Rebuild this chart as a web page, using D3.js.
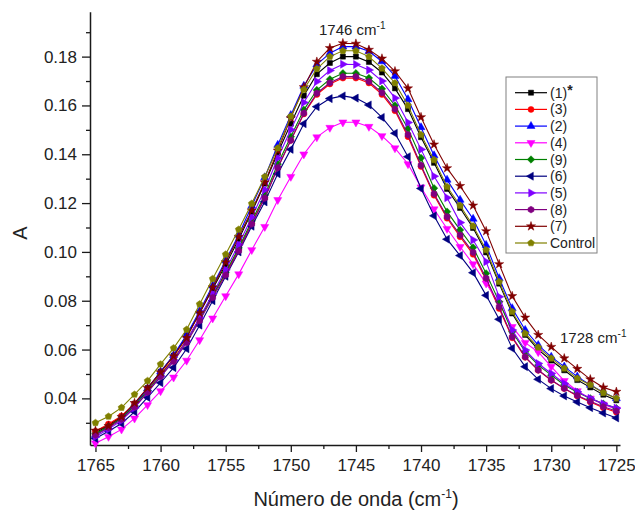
<!DOCTYPE html>
<html>
<head>
<meta charset="utf-8">
<script src="https://cdn.jsdelivr.net/npm/d3@7"></script>
<style>
  body { margin: 0; background: #fff; }
  text { font-family: "Liberation Sans", Arial, sans-serif; }
</style>
</head>
<body>
<svg id="chart" width="635" height="514"></svg>
<script>
// x values (cm-1), one point per wavenumber
const wavenumbers = [1765, 1764, 1763, 1762, 1761, 1760, 1759, 1758, 1757, 1756, 1755,
  1754, 1753, 1752, 1751, 1750, 1749, 1748, 1747, 1746, 1745, 1744, 1743, 1742, 1741,
  1740, 1739, 1738, 1737, 1736, 1735, 1734, 1733, 1732, 1731, 1730, 1729, 1728, 1727,
  1726, 1725];

// absorbance of each sample
const s1 = [0.0258, 0.0290, 0.0325, 0.0378, 0.0442, 0.0509, 0.0575, 0.0656, 0.0750, 0.0848, 0.0947,
  0.1052, 0.1163, 0.1280, 0.1405, 0.1525, 0.1640, 0.1728, 0.1774, 0.1800, 0.1800, 0.1778, 0.1735,
  0.1670, 0.1585, 0.1470, 0.1365, 0.1258, 0.1180, 0.1098, 0.0998, 0.0870, 0.0748, 0.0660, 0.0600,
  0.0555, 0.0515, 0.0475, 0.0445, 0.0415, 0.0392];
const s3 = [0.0265, 0.0295, 0.0328, 0.0377, 0.0438, 0.0500, 0.0562, 0.0638, 0.0727, 0.0820, 0.0912,
  0.1010, 0.1117, 0.1223, 0.1345, 0.1457, 0.1565, 0.1645, 0.1688, 0.1712, 0.1712, 0.1692, 0.1645,
  0.1578, 0.1472, 0.1350, 0.1232, 0.1138, 0.1062, 0.0990, 0.0885, 0.0768, 0.0648, 0.0568, 0.0515,
  0.0474, 0.0440, 0.0410, 0.0385, 0.0362, 0.0343];
const s2 = [0.0250, 0.0283, 0.0319, 0.0373, 0.0440, 0.0509, 0.0577, 0.0660, 0.0758, 0.0862, 0.0965,
  0.1070, 0.1188, 0.1305, 0.1438, 0.1560, 0.1680, 0.1767, 0.1814, 0.1841, 0.1841, 0.1822, 0.1780,
  0.1720, 0.1625, 0.1510, 0.1395, 0.1295, 0.1213, 0.1135, 0.1028, 0.0892, 0.0769, 0.0680, 0.0618,
  0.0570, 0.0530, 0.0489, 0.0455, 0.0425, 0.0400];
const s4 = [0.0216, 0.0243, 0.0273, 0.0318, 0.0373, 0.0430, 0.0486, 0.0555, 0.0639, 0.0728, 0.0819,
  0.0909, 0.1008, 0.1103, 0.1213, 0.1308, 0.1400, 0.1470, 0.1509, 0.1531, 0.1531, 0.1513, 0.1475,
  0.1425, 0.1360, 0.1265, 0.1175, 0.1095, 0.1021, 0.0950, 0.0871, 0.0789, 0.0693, 0.0628, 0.0590,
  0.0530, 0.0472, 0.0430, 0.0400, 0.0375, 0.0355];
const s9 = [0.0255, 0.0285, 0.0319, 0.0370, 0.0431, 0.0495, 0.0558, 0.0636, 0.0726, 0.0822, 0.0917,
  0.1016, 0.1127, 0.1233, 0.1360, 0.1472, 0.1582, 0.1663, 0.1707, 0.1732, 0.1732, 0.1712, 0.1668,
  0.1600, 0.1505, 0.1385, 0.1261, 0.1165, 0.1090, 0.1018, 0.0912, 0.0796, 0.0673, 0.0591, 0.0536,
  0.0495, 0.0455, 0.0425, 0.0400, 0.0378, 0.0360];
const s6 = [0.0236, 0.0265, 0.0297, 0.0345, 0.0404, 0.0464, 0.0526, 0.0603, 0.0700, 0.0800, 0.0900,
  0.1000, 0.1105, 0.1205, 0.1320, 0.1420, 0.1525, 0.1595, 0.1628, 0.1639, 0.1630, 0.1602, 0.1551,
  0.1486, 0.1390, 0.1260, 0.1148, 0.1052, 0.0985, 0.0915, 0.0822, 0.0724, 0.0605, 0.0530, 0.0478,
  0.0440, 0.0410, 0.0385, 0.0362, 0.0340, 0.0320];
const s5 = [0.0243, 0.0274, 0.0309, 0.0361, 0.0425, 0.0491, 0.0556, 0.0636, 0.0730, 0.0829, 0.0927,
  0.1030, 0.1142, 0.1255, 0.1385, 0.1500, 0.1612, 0.1698, 0.1743, 0.1769, 0.1768, 0.1745, 0.1700,
  0.1630, 0.1530, 0.1420, 0.1310, 0.1222, 0.1120, 0.1049, 0.0960, 0.0816, 0.0680, 0.0598, 0.0543,
  0.0502, 0.0461, 0.0427, 0.0400, 0.0378, 0.0360];
const s8 = [0.0250, 0.0280, 0.0314, 0.0364, 0.0425, 0.0489, 0.0551, 0.0628, 0.0718, 0.0813, 0.0905,
  0.1004, 0.1114, 0.1220, 0.1345, 0.1457, 0.1568, 0.1650, 0.1693, 0.1718, 0.1718, 0.1698, 0.1652,
  0.1585, 0.1480, 0.1355, 0.1238, 0.1144, 0.1069, 0.0998, 0.0892, 0.0775, 0.0652, 0.0570, 0.0516,
  0.0475, 0.0441, 0.0412, 0.0388, 0.0366, 0.0348];
const s7 = [0.0268, 0.0287, 0.0324, 0.0381, 0.0443, 0.0507, 0.0573, 0.0648, 0.0750, 0.0855, 0.0958,
  0.1062, 0.1170, 0.1285, 0.1415, 0.1548, 0.1675, 0.1779, 0.1835, 0.1855, 0.1853, 0.1828, 0.1792,
  0.1740, 0.1670, 0.1552, 0.1440, 0.1343, 0.1270, 0.1190, 0.1085, 0.0950, 0.0819, 0.0731, 0.0660,
  0.0611, 0.0564, 0.0521, 0.0478, 0.0445, 0.0427];
const control = [0.0300, 0.0326, 0.0362, 0.0416, 0.0472, 0.0540, 0.0606, 0.0682, 0.0786, 0.0890, 0.0990,
  0.1092, 0.1198, 0.1308, 0.1425, 0.1555, 0.1665, 0.1750, 0.1800, 0.1824, 0.1824, 0.1800, 0.1752,
  0.1692, 0.1600, 0.1480, 0.1377, 0.1267, 0.1190, 0.1106, 0.1008, 0.0878, 0.0755, 0.0666, 0.0609,
  0.0564, 0.0523, 0.0482, 0.0455, 0.0423, 0.0400];

const seriesNames = ["(1)", "(3)", "(2)", "(4)", "(9)", "(6)", "(5)", "(8)", "(7)", "Control"];
const seriesValues = [s1, s3, s2, s4, s9, s6, s5, s8, s7, control];
const seriesColors = ["#000000", "#ff0000", "#0000ff", "#ff00ff", "#008000",
  "#000080", "#8000ff", "#800080", "#800000", "#808000"];

const xTicks = [1765, 1760, 1755, 1750, 1745, 1740, 1735, 1730, 1725];
const xMinorTicks = [1762.5, 1757.5, 1752.5, 1747.5, 1742.5, 1737.5, 1732.5, 1727.5];
const yTicks = [0.04, 0.06, 0.08, 0.10, 0.12, 0.14, 0.16, 0.18];
const yMinorTicks = [0.03, 0.05, 0.07, 0.09, 0.11, 0.13, 0.15, 0.17, 0.19];

// regular polygon marker, used for the Origin style symbols
function polygon(n, rot) {
  return {
    draw(ctx, size) {
      const r = Math.sqrt(size / ((n / 2) * Math.sin((2 * Math.PI) / n)));
      for (let i = 0; i < n; i++) {
        const a = rot + (i * 2 * Math.PI) / n;
        const px = r * Math.sin(a), py = -r * Math.cos(a);
        if (i === 0) ctx.moveTo(px, py); else ctx.lineTo(px, py);
      }
      ctx.closePath();
    }
  };
}
const markers = [
  polygon(4, Math.PI / 4),   // square
  d3.symbolCircle,           // circle
  polygon(3, 0),             // up triangle
  polygon(3, Math.PI),       // down triangle
  polygon(4, 0),             // diamond
  polygon(3, -Math.PI / 2),  // left triangle
  polygon(3, Math.PI / 2),   // right triangle
  polygon(6, 0),             // hexagon
  d3.symbolStar,             // star
  polygon(5, 0)              // pentagon
];
const markerSizes = [26, 28, 28, 28, 28, 28, 28, 30, 26, 30];

const svg = d3.select("#chart");

const x = d3.scaleLinear().domain([1765.42, 1724.72]).range([90, 620]);
const y = d3.scaleLinear().domain([0.0209, 0.1984]).range([445, 11.7]);

// axes
const xAxis = svg.append("g")
  .attr("transform", "translate(0,445)")
  .call(d3.axisBottom(x).tickValues(xTicks).tickFormat(d3.format("d")).tickSize(7).tickSizeOuter(0));
svg.append("g")
  .attr("transform", "translate(0,445)")
  .call(d3.axisBottom(x).tickValues(xMinorTicks).tickFormat("").tickSize(4).tickSizeOuter(0))
  .select(".domain").remove();

const yAxis = svg.append("g")
  .attr("transform", "translate(90,0)")
  .call(d3.axisLeft(y).tickValues(yTicks).tickFormat(d3.format(".2f")).tickSize(8).tickSizeOuter(0));
svg.append("g")
  .attr("transform", "translate(90,0)")
  .call(d3.axisLeft(y).tickValues(yMinorTicks).tickFormat("").tickSize(4).tickSizeOuter(0))
  .select(".domain").remove();

svg.selectAll(".domain").attr("stroke", "#1a1a1a").attr("stroke-width", 1.5);
svg.selectAll(".tick line").attr("stroke", "#1a1a1a").attr("stroke-width", 1.3);
xAxis.selectAll(".tick text")
  .attr("y", 14)
  .style("font-size", "17px")
  .style("font-family", "Liberation Sans, Arial, sans-serif")
  .attr("fill", "#222");
yAxis.selectAll(".tick text")
  .attr("x", -13)
  .style("font-size", "17px")
  .style("font-family", "Liberation Sans, Arial, sans-serif")
  .attr("fill", "#222");

// axis titles
const xTitle = svg.append("text")
  .attr("x", 356).attr("y", 506)
  .attr("text-anchor", "middle")
  .style("font-size", "20px")
  .attr("fill", "#222");
xTitle.append("tspan").text("Número de onda (cm");
xTitle.append("tspan").attr("dy", -8).style("font-size", "12px").text("-1");
xTitle.append("tspan").attr("dy", 8).text(")");

svg.append("text")
  .attr("transform", "translate(27,233) rotate(-90)")
  .attr("text-anchor", "middle")
  .style("font-size", "20px")
  .attr("fill", "#222")
  .text("A");

// curves
const line = d3.line()
  .x((d, i) => x(wavenumbers[i]))
  .y((d) => y(d));

seriesValues.forEach((vals, si) => {
  const g = svg.append("g");
  g.append("path")
    .datum(vals)
    .attr("fill", "none")
    .attr("stroke", seriesColors[si])
    .attr("stroke-width", 1.1)
    .attr("d", line);
  g.selectAll("path.pt")
    .data(vals)
    .enter()
    .append("path")
    .attr("class", "pt")
    .attr("transform", (d, i) => `translate(${x(wavenumbers[i])},${y(d)})`)
    .attr("d", d3.symbol().type(markers[si]).size(markerSizes[si]))
    .attr("fill", seriesColors[si])
    .attr("stroke", seriesColors[si])
    .attr("stroke-width", 0.5);
});

// peak annotations
const ann1 = svg.append("text").attr("x", 319).attr("y", 35).style("font-size", "15px").attr("fill", "#222");
ann1.append("tspan").text("1746 cm");
ann1.append("tspan").attr("dy", -6).style("font-size", "10px").text("-1");

const ann2 = svg.append("text").attr("x", 560).attr("y", 343).style("font-size", "15px").attr("fill", "#222");
ann2.append("tspan").text("1728 cm");
ann2.append("tspan").attr("dy", -6).style("font-size", "10px").text("-1");

// legend
const legend = svg.append("g");
legend.append("rect")
  .attr("x", 506).attr("y", 77)
  .attr("width", 91).attr("height", 176)
  .attr("fill", "#fff")
  .attr("stroke", "#808080")
  .attr("stroke-width", 1);

seriesNames.forEach((name, i) => {
  const ly = 92.7 + i * 16.7;
  legend.append("line")
    .attr("x1", 515).attr("x2", 547)
    .attr("y1", ly).attr("y2", ly)
    .attr("stroke", seriesColors[i])
    .attr("stroke-width", 1.2);
  legend.append("path")
    .attr("transform", `translate(531,${ly})`)
    .attr("d", d3.symbol().type(markers[i]).size(markerSizes[i]))
    .attr("fill", seriesColors[i])
    .attr("stroke", seriesColors[i])
    .attr("stroke-width", 0.5);
  const t = legend.append("text")
    .attr("x", 550).attr("y", ly + 5)
    .style("font-size", "14px")
    .attr("fill", "#222");
  t.append("tspan").text(name);
  if (i === 0) {
    t.append("tspan").attr("dy", -3).style("font-weight", "bold").text("*");
  }
});
</script>
</body>
</html>
